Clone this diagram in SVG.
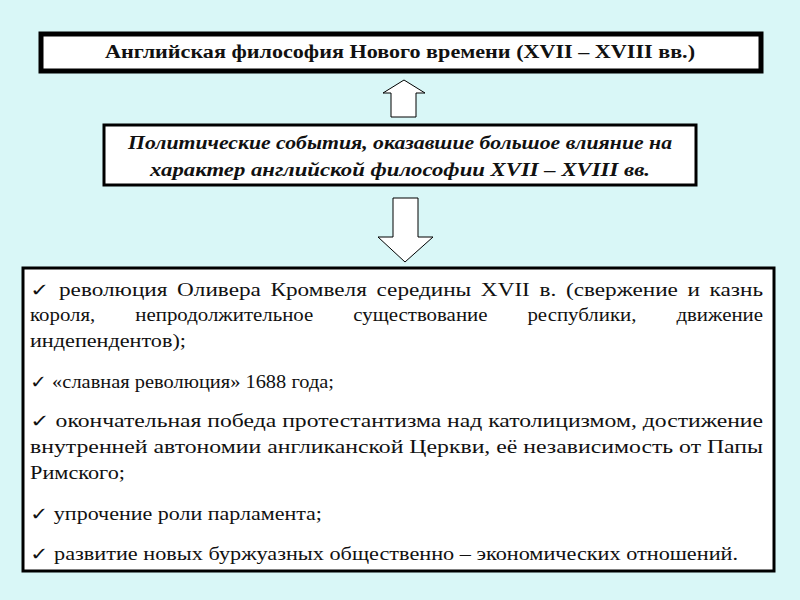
<svg xmlns="http://www.w3.org/2000/svg" width="800" height="600" viewBox="0 0 800 600">
<style>
.t{font-family:"Liberation Serif","Times New Roman",serif;font-size:18px;fill:#111}
.b{font-weight:bold}
.i{font-style:italic;font-weight:bold}
.box{fill:#fff;stroke:#000}
.arr{fill:#fff;stroke:#000;stroke-width:1}
</style>
<rect width="800" height="600" fill="#d9f7f7"/>
<g id="title"><rect class="box" x="41" y="34" width="720" height="37" stroke-width="5"/>
<text class="t b" x="400" y="58" text-anchor="middle" textLength="590" lengthAdjust="spacingAndGlyphs">Английская философия Нового времени (XVII – XVIII вв.)</text></g>
<g id="events"><rect class="box" x="104" y="125" width="592" height="60" stroke-width="3"/>
<text class="t i" x="400" y="149" text-anchor="middle" textLength="544" lengthAdjust="spacingAndGlyphs">Политические события, оказавшие большое влияние на</text>
<text class="t i" x="400" y="176" text-anchor="middle" textLength="500" lengthAdjust="spacingAndGlyphs">характер английской философии XVII – XVIII вв.</text></g>
<g id="connectors">
<path class="arr" d="M404,80 L425,93 L416,93 L416,117 L391,117 L391,93 L383,93 Z"/>
<path class="arr" d="M393,198 L418,198 L418,237 L433,237 L405,262 L378,237 L393,237 Z"/>
</g>
<g id="list"><rect class="box" x="23" y="268" width="751" height="303" stroke-width="3" fill="#e8fcfc"/>
<g class="t">
<text x="30" y="296" textLength="733" lengthAdjust="spacingAndGlyphs" word-spacing="3">✓  революция Оливера Кромвеля середины XVII в. (свержение и казнь</text>
<text x="30" y="321" textLength="733" lengthAdjust="spacingAndGlyphs" word-spacing="30">короля, непродолжительное существование республики, движение</text>
<text x="30" y="347" textLength="156" lengthAdjust="spacingAndGlyphs">индепендентов);</text>
<text x="30" y="388" textLength="304" lengthAdjust="spacingAndGlyphs">✓ «славная революция» 1688 года;</text>
<text x="30" y="427" textLength="733" lengthAdjust="spacingAndGlyphs">✓  окончательная победа протестантизма над католицизмом, достижение</text>
<text x="30" y="453" textLength="733" lengthAdjust="spacingAndGlyphs">внутренней автономии англиканской Церкви, её независимость от Папы</text>
<text x="30" y="479" textLength="95" lengthAdjust="spacingAndGlyphs">Римского;</text>
<text x="30" y="520" textLength="292" lengthAdjust="spacingAndGlyphs">✓ упрочение роли парламента;</text>
<text x="30" y="560" textLength="708" lengthAdjust="spacingAndGlyphs">✓ развитие новых буржуазных общественно – экономических отношений.</text>
</g></g>
</svg>
